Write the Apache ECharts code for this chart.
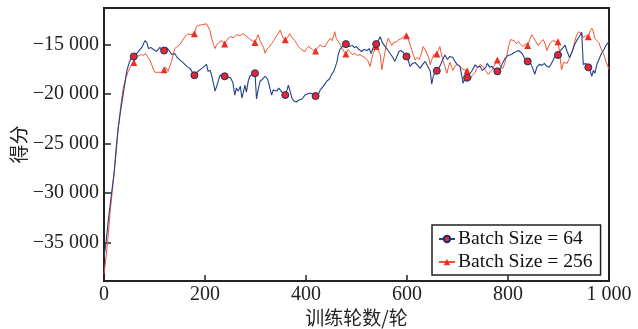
<!DOCTYPE html>
<html>
<head>
<meta charset="utf-8">
<script src="https://cdn.jsdelivr.net/npm/echarts@6/dist/echarts.min.js"></script>
<style>
  html, body { margin: 0; padding: 0; background: #fff; }
  #chart { width: 638px; height: 329px; }
</style>
</head>
<body>
<div id="chart"></div>
<script>
// Training score per epoch, batch size 64
const epochs64 = [0,4,9,15,20,24,28,32,38,45,50,55,59,65,71,76,81,85,88,93,98,104,110,119,124,129,134,140,145,150,156,160,164,170,179,184,190,196,203,206,210,213,217,220,225,230,234,239,243,246,250,255,259,262,266,270,273,276,279,282,286,289,294,299,302,305,309,314,319,324,328,332,335,338,342,346,349,354,359,363,365,369,372,376,381,386,392,398,403,408,413,419,424,428,431,436,441,446,451,455,458,461,464,467,472,479,484,487,492,496,500,505,510,515,521,525,529,533,539,543,547,551,554,557,560,564,568,572,576,580,584,588,593,599,603,606,611,616,621,626,631,636,641,646,649,652,655,659,665,670,675,680,685,691,695,699,705,708,711,715,719,724,728,735,740,745,749,752,756,759,764,768,773,779,784,788,794,800,807,812,817,821,824,828,833,839,845,849,853,857,862,867,872,877,882,887,892,899,904,909,913,917,922,927,932,937,941,946,949,954,959,963,966,969,972,976,980,985,990,995,1000];
const score64 = [-36500,-35000,-32500,-30000,-28000,-25500,-23500,-22000,-20000,-17700,-16800,-16300,-16200,-15900,-15500,-15200,-14600,-14800,-15400,-15300,-15500,-15700,-15300,-15600,-15300,-15600,-16000,-15900,-16300,-16550,-16800,-17000,-17200,-17400,-18100,-17800,-17550,-17300,-17000,-17700,-17600,-18060,-19000,-19700,-18900,-18060,-18200,-18200,-18400,-18500,-18300,-18800,-20100,-19400,-19700,-19200,-20400,-19800,-19100,-19800,-18600,-18200,-18000,-17900,-20500,-19600,-18700,-18500,-18200,-18500,-19300,-20100,-19600,-19500,-19700,-19400,-19600,-19900,-20100,-19500,-19100,-19800,-20400,-20700,-20800,-20600,-20500,-20100,-20000,-19900,-20000,-20200,-20100,-19600,-19400,-19100,-18700,-18500,-18000,-17700,-17500,-16800,-16000,-15500,-15200,-14950,-15200,-15300,-15100,-15300,-15200,-15500,-15700,-15500,-15600,-15400,-15900,-15300,-14950,-14600,-14200,-14800,-15000,-15200,-15400,-15700,-16000,-16300,-16700,-16200,-15700,-15600,-15800,-16200,-16700,-17200,-16900,-16800,-17100,-17400,-17000,-16700,-17200,-17700,-19000,-18200,-17900,-17650,-17200,-16600,-16050,-16500,-16200,-16300,-16700,-17000,-17200,-18000,-18900,-18400,-18350,-18000,-17700,-17050,-17300,-17200,-17600,-17800,-17300,-16900,-17300,-17200,-17500,-17700,-17600,-17000,-16400,-16100,-16000,-15800,-15700,-15600,-15400,-15900,-16400,-16700,-16900,-17400,-18000,-17300,-17000,-17100,-16900,-17200,-17300,-16800,-16300,-16050,-15600,-15300,-15050,-15700,-16300,-15700,-15000,-14500,-14200,-13750,-17000,-16900,-17300,-17700,-18200,-17600,-17900,-17000,-16500,-15900,-15500,-15000,-14700];

// Training score per epoch, batch size 256
const epochs256 = [0,4,8,12,16,20,24,28,33,38,43,48,53,59,65,70,74,78,82,86,91,95,98,101,104,108,111,115,119,122,124,127,130,134,137,140,145,150,155,160,166,172,179,183,188,193,198,203,206,210,213,217,220,223,226,230,234,239,243,246,250,253,256,259,263,266,269,272,276,279,283,286,290,294,299,302,305,309,312,316,319,322,326,329,332,336,339,342,346,349,352,355,359,363,368,372,375,378,381,385,388,391,394,398,401,405,408,413,419,423,428,433,438,443,448,452,454,457,460,464,468,471,475,479,483,487,492,497,502,507,512,517,522,527,530,533,539,543,547,550,553,556,559,563,567,570,573,576,580,584,588,593,599,603,606,610,613,616,620,624,628,632,636,639,643,646,650,653,659,662,665,668,671,675,679,682,685,688,691,696,701,706,711,714,719,722,725,729,735,738,741,745,748,752,755,758,761,764,768,771,775,779,782,786,790,794,798,802,805,808,812,817,821,825,830,835,839,843,847,851,855,860,865,870,874,877,881,884,889,894,899,902,906,910,913,917,920,924,928,932,936,940,943,946,949,954,959,963,966,969,972,976,980,984,989,994,1000];
const score256 = [-38200,-36500,-34500,-32000,-30000,-28000,-26000,-23500,-21300,-19400,-18400,-17700,-17200,-16800,-16200,-16100,-16000,-16100,-15900,-16200,-16600,-17100,-17550,-17800,-17900,-17800,-17700,-17800,-17550,-17300,-17500,-17700,-17200,-16700,-16000,-15400,-15200,-15000,-14600,-14230,-13900,-14000,-13900,-13180,-13050,-13000,-12950,-12900,-13010,-13600,-14350,-15000,-15400,-15000,-14900,-14700,-14600,-14950,-14600,-14350,-14200,-14000,-14300,-14300,-14000,-13860,-14100,-14300,-13900,-13700,-14200,-14300,-14500,-14600,-14800,-14400,-14000,-14600,-14800,-15300,-15870,-15500,-15300,-15100,-14900,-14600,-14300,-14200,-13800,-13520,-14000,-14350,-14500,-14300,-13900,-14300,-14300,-14600,-14860,-15200,-15300,-15500,-15700,-15700,-15400,-15200,-15200,-15500,-15650,-15300,-15030,-15200,-15200,-14700,-14350,-14600,-14800,-13700,-14400,-14700,-15000,-15370,-15700,-15950,-15500,-15700,-16000,-15900,-16100,-16000,-16200,-16300,-16600,-17200,-16500,-15900,-15200,-15600,-16000,-17550,-16700,-15900,-15000,-14350,-14800,-15100,-14800,-14600,-14700,-14500,-14400,-14200,-14100,-14500,-15030,-15600,-16100,-16550,-16300,-16500,-16000,-15200,-15500,-15600,-16300,-17050,-16400,-16000,-15950,-15600,-15200,-15900,-16600,-17200,-17900,-17300,-16800,-17200,-17600,-17100,-17000,-17300,-17500,-17300,-17650,-18100,-18570,-18100,-17800,-17400,-17300,-17000,-16880,-17300,-17600,-17700,-18000,-18100,-17600,-17300,-16900,-16550,-16900,-17300,-17400,-16800,-16000,-15000,-14500,-14300,-14600,-14900,-14700,-15000,-15200,-14900,-15100,-14500,-14000,-14300,-14700,-15100,-14700,-14500,-15000,-15600,-15100,-14800,-14600,-14700,-14700,-15700,-17550,-16800,-16600,-16900,-16800,-16100,-15600,-14700,-14000,-13700,-13500,-13900,-14300,-14100,-14200,-13600,-13350,-13700,-14400,-14600,-14800,-15400,-15900,-16700,-17500];

// Epochs that carry a marker on each curve
const markerEpochs = [59,119,179,239,299,359,419,479,539,599,659,719,779,839,899,959];

// Axis ticks
const xTicks = [0,200,400,600,800,1000];
const yTicks = [-35000,-30000,-25000,-20000,-15000];

const seriesNames = ['Batch Size = 64', 'Batch Size = 256'];

const serif = '"Liberation Serif", "Times New Roman", serif';
const cjk = '"Noto Sans CJK SC", sans-serif';

function groupThousands(v) {
  const s = String(Math.abs(v)).replace(/\B(?=(\d{3})+(?!\d))/g, ' ');
  return (v < 0 ? '\u2212' : '') + s;
}

function buildData(xs, ys, marker) {
  return xs.map((x, i) => ({
    value: [x, ys[i]],
    symbol: markerEpochs.includes(x) ? marker : 'none'
  }));
}

const chart = echarts.init(document.getElementById('chart'), null, { renderer: 'canvas' });

chart.setOption({
  animation: false,
  backgroundColor: '#fff',
  grid: {
    left: 104, right: 29, top: 8, bottom: 48,
    outerBoundsMode: 'none',
    containLabel: false,
    show: true, borderColor: '#222', borderWidth: 2, backgroundColor: 'transparent'
  },
  legend: {
    orient: 'vertical',
    left: 432, top: 225,
    padding: [4, 8, 3, 6],
    itemGap: 3,
    itemWidth: 16, itemHeight: 8,
    backgroundColor: '#fff',
    borderColor: '#222', borderWidth: 1.5, borderRadius: 0,
    textStyle: { fontFamily: serif, fontSize: 19.6, color: '#111', padding: [0, 0, 0, -2] },
    data: seriesNames
  },
  xAxis: {
    type: 'value',
    min: 0, max: 1000, interval: 200,
    name: '训练轮数/轮',
    nameLocation: 'middle',
    nameGap: 27,
    nameMoveOverlap: false,
    nameTextStyle: { fontFamily: cjk, fontSize: 19, color: '#222' },
    axisLine: { show: true, onZero: false, lineStyle: { color: '#222', width: 2 } },
    axisTick: { show: true, inside: true, length: 6, lineStyle: { color: '#222', width: 1.5 }, customValues: xTicks },
    axisLabel: {
      fontFamily: serif, fontSize: 20, color: '#222', margin: 4,
      customValues: xTicks,
      formatter: v => groupThousands(v)
    },
    splitLine: { show: false }
  },
  yAxis: {
    type: 'value',
    min: -38900, max: -11300,
    name: '得分',
    nameLocation: 'middle',
    nameGap: 76,
    nameMoveOverlap: false,
    nameRotate: 90,
    nameTextStyle: { fontFamily: cjk, fontSize: 19, color: '#222' },
    axisLine: { show: true, onZero: false, lineStyle: { color: '#222', width: 2 } },
    axisTick: { show: true, inside: true, length: 7, lineStyle: { color: '#222', width: 1.5 }, customValues: yTicks },
    axisLabel: {
      fontFamily: serif, fontSize: 20, color: '#222', margin: 5,
      customValues: yTicks,
      formatter: v => groupThousands(v)
    },
    splitLine: { show: false }
  },
  series: [
    {
      name: seriesNames[0],
      type: 'line',
      data: buildData(epochs64, score64, 'circle'),
      symbol: 'circle',
      symbolSize: 7,
      showSymbol: true,
      showAllSymbol: true,
      lineStyle: { color: '#23428a', width: 1.1 },
      itemStyle: { color: '#e5262b', borderColor: '#1d2f6a', borderWidth: 1 },
      z: 3
    },
    {
      name: seriesNames[1],
      type: 'line',
      data: buildData(epochs256, score256, 'triangle'),
      symbol: 'triangle',
      symbolSize: 7,
      showSymbol: true,
      showAllSymbol: true,
      lineStyle: { color: '#f2542d', width: 1 },
      itemStyle: { color: '#ec2f24', borderWidth: 0 },
      z: 2
    }
  ]
});
</script>
</body>
</html>
